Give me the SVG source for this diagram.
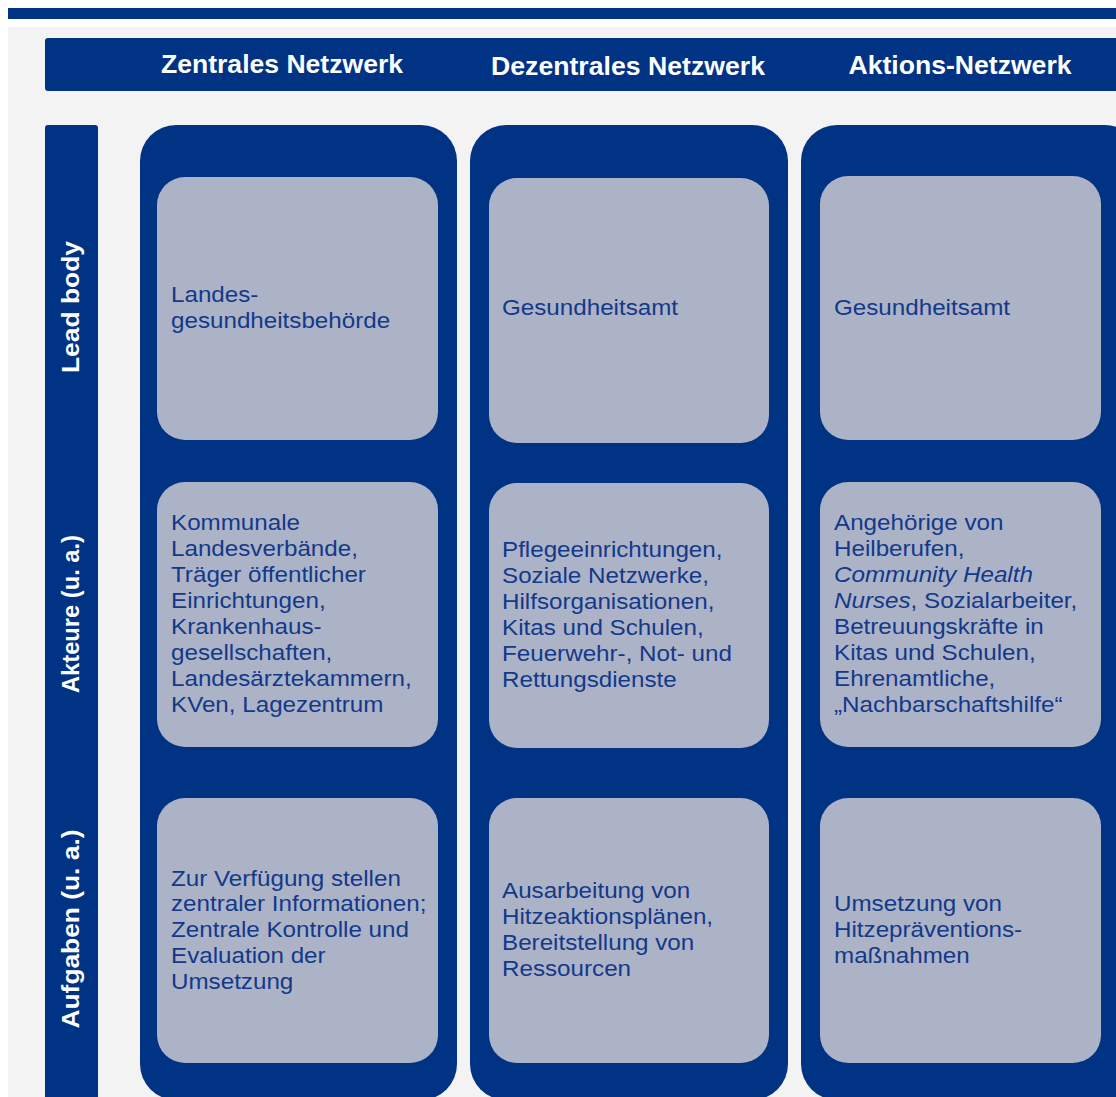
<svg xmlns="http://www.w3.org/2000/svg" width="1116" height="1097" viewBox="0 0 1116 1097">
  <style>
    .blue { fill: #003383; }
    .card { fill: #adb3c7; }
    .hdr { font-family: "Liberation Sans", Arial, sans-serif; font-weight: bold; font-size: 25px; fill: #ffffff; text-anchor: middle; }
    .side { font-family: "Liberation Sans", Arial, sans-serif; font-weight: bold; font-size: 24px; fill: #ffffff; text-anchor: middle; }
    .txt { font-family: "Liberation Sans", Arial, sans-serif; font-size: 22px; fill: #12398a; }
    .it { font-style: italic; }
  </style>

  <!-- page background and top rule -->
  <rect x="0" y="0" width="1116" height="1097" fill="#ffffff"/>
  <rect x="8" y="8" width="1108" height="11" class="blue"/>
  <rect x="8" y="27" width="1108" height="1070" fill="#f3f3f3"/>

  <!-- column header bar -->
  <g id="header">
    <rect x="45" y="38" width="1080" height="53" rx="3" class="blue"/>
    <text x="282" y="73" class="hdr" textLength="242" lengthAdjust="spacingAndGlyphs">Zentrales Netzwerk</text>
    <text x="628" y="75" class="hdr" textLength="274" lengthAdjust="spacingAndGlyphs">Dezentrales Netzwerk</text>
    <text x="960" y="74" class="hdr" textLength="223" lengthAdjust="spacingAndGlyphs">Aktions-Netzwerk</text>
  </g>

  <!-- row label bar -->
  <g id="row-labels">
    <rect x="45" y="125" width="53" height="990" rx="3" class="blue"/>
    <text transform="translate(79 307) rotate(-90)" class="side" textLength="132" lengthAdjust="spacingAndGlyphs">Lead body</text>
    <text transform="translate(79 614) rotate(-90)" class="side" textLength="158" lengthAdjust="spacingAndGlyphs">Akteure (u. a.)</text>
    <text transform="translate(79 929) rotate(-90)" class="side" textLength="199" lengthAdjust="spacingAndGlyphs">Aufgaben (u. a.)</text>
  </g>

  <!-- Zentrales Netzwerk -->
  <g id="col-zentral">
    <rect x="140" y="125" width="317" height="975" rx="36" class="blue"/>
    <g id="z-lead">
      <rect x="157" y="177" width="281" height="263" rx="28" class="card"/>
      <g transform="translate(171 0) scale(1.1 1)">
        <text class="txt" x="0" y="302">Landes-</text>
        <text class="txt" x="0" y="328">gesundheitsbehörde</text>
      </g>
    </g>
    <g id="z-akteure">
      <rect x="157" y="482" width="281" height="265" rx="28" class="card"/>
      <g transform="translate(171 0) scale(1.1 1)">
        <text class="txt" x="0" y="530">Kommunale</text>
        <text class="txt" x="0" y="556">Landesverbände,</text>
        <text class="txt" x="0" y="582">Träger öffentlicher</text>
        <text class="txt" x="0" y="608">Einrichtungen,</text>
        <text class="txt" x="0" y="634">Krankenhaus-</text>
        <text class="txt" x="0" y="660">gesellschaften,</text>
        <text class="txt" x="0" y="686">Landesärztekammern,</text>
        <text class="txt" x="0" y="712">KVen, Lagezentrum</text>
      </g>
    </g>
    <g id="z-aufgaben">
      <rect x="157" y="798" width="281" height="265" rx="28" class="card"/>
      <g transform="translate(171 0) scale(1.1 1)">
        <text class="txt" x="0" y="886">Zur Verfügung stellen</text>
        <text class="txt" x="0" y="911">zentraler Informationen;</text>
        <text class="txt" x="0" y="937">Zentrale Kontrolle und</text>
        <text class="txt" x="0" y="963">Evaluation der</text>
        <text class="txt" x="0" y="989">Umsetzung</text>
      </g>
    </g>
  </g>

  <!-- Dezentrales Netzwerk -->
  <g id="col-dezentral">
    <rect x="470" y="125" width="318" height="975" rx="36" class="blue"/>
    <g id="d-lead">
      <rect x="489" y="178" width="280" height="265" rx="28" class="card"/>
      <g transform="translate(502 0) scale(1.1 1)">
        <text class="txt" x="0" y="315">Gesundheitsamt</text>
      </g>
    </g>
    <g id="d-akteure">
      <rect x="489" y="483" width="280" height="265" rx="28" class="card"/>
      <g transform="translate(502 0) scale(1.1 1)">
        <text class="txt" x="0" y="557">Pflegeeinrichtungen,</text>
        <text class="txt" x="0" y="583">Soziale Netzwerke,</text>
        <text class="txt" x="0" y="609">Hilfsorganisationen,</text>
        <text class="txt" x="0" y="635">Kitas und Schulen,</text>
        <text class="txt" x="0" y="661">Feuerwehr-, Not- und</text>
        <text class="txt" x="0" y="687">Rettungsdienste</text>
      </g>
    </g>
    <g id="d-aufgaben">
      <rect x="489" y="798" width="280" height="265" rx="28" class="card"/>
      <g transform="translate(502 0) scale(1.1 1)">
        <text class="txt" x="0" y="898">Ausarbeitung von</text>
        <text class="txt" x="0" y="924">Hitzeaktionsplänen,</text>
        <text class="txt" x="0" y="950">Bereitstellung von</text>
        <text class="txt" x="0" y="976">Ressourcen</text>
      </g>
    </g>
  </g>

  <!-- Aktions-Netzwerk -->
  <g id="col-aktion">
    <rect x="801" y="125" width="340" height="975" rx="36" class="blue"/>
    <g id="a-lead">
      <rect x="820" y="176" width="281" height="264" rx="28" class="card"/>
      <g transform="translate(834 0) scale(1.1 1)">
        <text class="txt" x="0" y="315">Gesundheitsamt</text>
      </g>
    </g>
    <g id="a-akteure">
      <rect x="820" y="482" width="281" height="265" rx="28" class="card"/>
      <g transform="translate(834 0) scale(1.1 1)">
        <text class="txt" x="0" y="530">Angehörige von</text>
        <text class="txt" x="0" y="556">Heilberufen,</text>
        <text class="txt it" x="0" y="582">Community Health</text>
        <text class="txt" x="0" y="608"><tspan class="it">Nurses</tspan>, Sozialarbeiter,</text>
        <text class="txt" x="0" y="634">Betreuungskräfte in</text>
        <text class="txt" x="0" y="660">Kitas und Schulen,</text>
        <text class="txt" x="0" y="686">Ehrenamtliche,</text>
        <text class="txt" x="0" y="712">„Nachbarschaftshilfe“</text>
      </g>
    </g>
    <g id="a-aufgaben">
      <rect x="820" y="798" width="281" height="265" rx="28" class="card"/>
      <g transform="translate(834 0) scale(1.1 1)">
        <text class="txt" x="0" y="911">Umsetzung von</text>
        <text class="txt" x="0" y="937">Hitzepräventions-</text>
        <text class="txt" x="0" y="963">maßnahmen</text>
      </g>
    </g>
  </g>
</svg>
